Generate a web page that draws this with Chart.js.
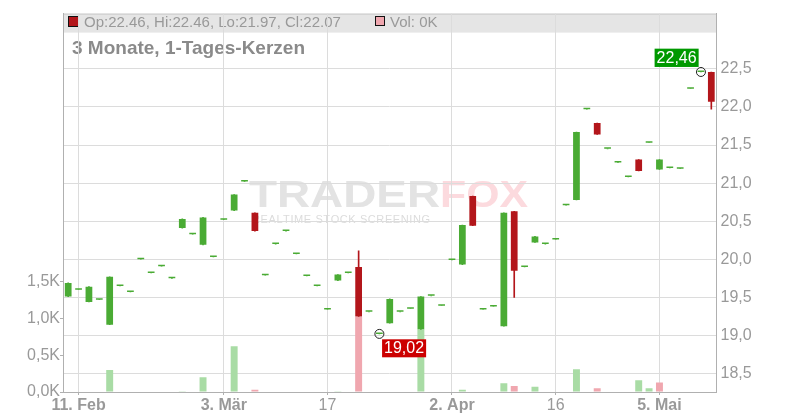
<!DOCTYPE html>
<html>
<head>
<meta charset="utf-8">
<script src="https://cdn.jsdelivr.net/npm/chart.js@4.4.1/dist/chart.umd.min.js"></script>
<style>
  html, body { margin: 0; padding: 0; background: #fff; }
  canvas { display: block; }
</style>
</head>
<body>
<canvas id="chart" width="800" height="420"></canvas>
<script>
// Trading days (dd.mm), 10 Feb - 12 May
const days = ['10.02','11.02','12.02','13.02','14.02','17.02','18.02','19.02','20.02','21.02',
  '24.02','25.02','26.02','27.02','28.02','03.03','04.03','05.03','06.03','07.03',
  '10.03','11.03','12.03','13.03','14.03','17.03','18.03','19.03','20.03','21.03',
  '24.03','25.03','26.03','27.03','28.03','31.03','01.04','02.04','03.04','04.04',
  '07.04','08.04','09.04','10.04','11.04','14.04','15.04','16.04','17.04','22.04',
  '23.04','24.04','25.04','28.04','29.04','30.04','02.05','05.05','06.05','07.05',
  '08.05','09.05','12.05'];

const open = [19.51,19.60,19.44,19.47,19.14,19.65,19.57,20.00,19.82,19.91,
  19.75,20.41,20.33,20.19,20.03,20.52,20.64,21.02,20.61,19.79,
  20.20,20.37,20.07,19.78,19.65,19.34,19.72,19.82,19.90,19.31,
  19.02,19.16,19.31,19.35,19.08,19.52,19.39,19.99,19.93,20.83,
  19.34,19.38,19.12,20.63,19.90,20.22,20.20,20.26,20.71,20.78,
  21.97,21.79,21.45,21.27,21.08,21.31,21.53,21.18,21.20,21.19,
  22.24,22.46,22.46];

const high = [19.69,19.60,19.64,19.47,19.77,19.65,19.57,20.00,19.82,19.91,
  19.75,20.53,20.33,20.55,20.03,20.52,20.85,21.02,20.61,19.79,
  20.20,20.37,20.07,19.78,19.65,19.34,19.80,19.82,20.11,19.31,
  19.02,19.48,19.31,19.35,19.51,19.52,19.39,19.99,20.45,20.83,
  19.34,19.38,20.61,20.63,19.90,20.30,20.20,20.26,20.71,21.67,
  21.97,21.79,21.45,21.27,21.08,21.31,21.53,21.31,21.20,21.19,
  22.24,22.46,22.46];

const low = [19.51,19.60,19.44,19.47,19.14,19.65,19.57,20.00,19.82,19.91,
  19.75,20.41,20.33,20.19,20.03,20.52,20.64,21.02,20.37,19.79,
  20.20,20.37,20.07,19.78,19.65,19.34,19.72,19.82,19.25,19.31,
  19.02,19.16,19.31,19.35,19.08,19.52,19.39,19.99,19.93,20.44,
  19.34,19.38,19.12,19.50,19.90,20.22,20.20,20.26,20.71,20.78,
  21.97,21.64,21.45,21.27,21.08,21.16,21.53,21.18,21.20,21.19,
  22.24,22.46,21.97];

const close = [19.69,19.60,19.64,19.47,19.77,19.65,19.57,20.00,19.82,19.91,
  19.75,20.53,20.33,20.55,20.03,20.52,20.85,21.02,20.37,19.79,
  20.20,20.37,20.07,19.78,19.65,19.34,19.80,19.82,19.25,19.31,
  19.02,19.48,19.31,19.35,19.51,19.52,19.39,19.99,20.45,20.44,
  19.34,19.38,20.61,19.85,19.90,20.30,20.20,20.26,20.71,21.67,
  21.97,21.64,21.45,21.27,21.08,21.16,21.53,21.31,21.20,21.19,
  22.24,22.46,22.07];

// volume in thousands
const volume = [0,0,0,0,0.30,0,0,0,0,0,
  0,0.01,0,0.20,0,0,0.62,0,0.03,0,
  0,0,0,0,0,0,0.01,0,1.02,0,
  0,0,0,0,0.85,0,0,0,0.03,0,
  0,0,0.12,0.08,0,0.07,0,0,0,0.31,
  0,0.05,0,0,0,0.16,0.05,0.13,0,0,
  0,0,0];

const xTickDays = ['11.02','03.03','17.03','02.04','16.04','05.05'];
const xTickText = ['11. Feb','3. Mär','17','2. Apr','16','5. Mai'];
const xTickBold = [true, true, false, true, false, true];
const priceTicks = [18.5, 19.0, 19.5, 20.0, 20.5, 21.0, 21.5, 22.0, 22.5];
const volTicks = [0, 0.5, 1.0, 1.5];
const markLow = 30;   // index of period low
const markHigh = 61;  // index of period high

const GREEN = '#4aab34';
const RED = '#b3161b';
const VOL_UP = '#a9dca5';
const VOL_DOWN = '#f0a7af';
const FONT = "'Liberation Sans', Arial, sans-serif";

Chart.defaults.font.family = FONT;

const candleColor = close.map((c, i) => c >= open[i] ? GREEN : RED);
const volColor = close.map((c, i) => (i === 0 || c >= close[i - 1]) ? VOL_UP : VOL_DOWN);
const last = close.length - 1;

const fmt = (v, d) => v.toFixed(d).replace('.', ',');

const decor = {
  id: 'decor',
  beforeDraw(chart) {
    const {ctx, chartArea: a} = chart;
    ctx.save();
    // header band
    ctx.fillStyle = '#e5e5e5';
    ctx.fillRect(a.left, a.top, a.right - a.left, 19);
    ctx.strokeStyle = '#c8c8c8';
    ctx.lineWidth = 1;
    ctx.beginPath();
    ctx.moveTo(a.left, a.top + 0.5);
    ctx.lineTo(a.right, a.top + 0.5);
    ctx.stroke();

    // legend squares + OHLC text
    ctx.fillStyle = candleColor[last];
    ctx.fillRect(68.5, 16.5, 10, 10);
    ctx.strokeStyle = '#111';
    ctx.strokeRect(68.5, 16.5, 10, 10);
    ctx.font = '15px ' + FONT;
    ctx.fillStyle = '#999';
    ctx.textBaseline = 'alphabetic';
    ctx.fillText('Op:' + open[last].toFixed(2) + ', Hi:' + high[last].toFixed(2) +
      ', Lo:' + low[last].toFixed(2) + ', Cl:' + close[last].toFixed(2), 84, 27);
    ctx.fillStyle = volColor[last];
    ctx.fillRect(375.5, 16.5, 9, 9);
    ctx.strokeRect(375.5, 16.5, 9, 9);
    ctx.fillStyle = '#999';
    ctx.fillText('Vol: ' + Math.round(volume[last]) + 'K', 390, 27);

    // title
    ctx.font = 'bold 19px ' + FONT;
    ctx.fillStyle = '#8a8a8a';
    ctx.fillText('3 Monate, 1-Tages-Kerzen', 72, 54);

    // watermark
    ctx.font = 'bold 37px ' + FONT;
    let w = ctx.measureText('TRADER').width;
    ctx.save();
    ctx.translate(249, 207);
    ctx.scale(191 / w, 1);
    ctx.fillStyle = '#e3e3e3';
    ctx.fillText('TRADER', 0, 0);
    ctx.restore();
    w = ctx.measureText('FOX').width;
    ctx.save();
    ctx.translate(440, 207);
    ctx.scale(88 / w, 1);
    ctx.fillStyle = '#fcdade';
    ctx.fillText('FOX', 0, 0);
    ctx.restore();
    ctx.font = '11px ' + FONT;
    ctx.fillStyle = '#dcdcdc';
    const sub = 'REALTIME STOCK SCREENING';
    const natural = ctx.measureText(sub).width;
    const gap = (177 - natural) / (sub.length - 1);
    let x = 252;
    for (const ch of sub) {
      ctx.fillText(ch, x, 223);
      x += ctx.measureText(ch).width + gap;
    }
    ctx.restore();
  },
  afterDatasetsDraw(chart) {
    const {ctx, scales} = chart;
    ctx.save();
    ctx.font = '16px ' + FONT;
    ctx.textAlign = 'center';
    ctx.textBaseline = 'middle';
    // low label
    let x = scales.x.getPixelForValue(markLow);
    let y = scales.y.getPixelForValue(low[markLow]);
    let txt = fmt(low[markLow], 2);
    let bw = ctx.measureText(txt).width + 4;
    ctx.fillStyle = '#cc0000';
    ctx.fillRect(x + 2.7, y + 5.4, bw, 18);
    ctx.fillStyle = '#fff';
    ctx.fillText(txt, x + 2.7 + bw / 2, y + 5.4 + 9.5);
    // high label
    x = scales.x.getPixelForValue(markHigh);
    y = scales.y.getPixelForValue(high[markHigh]);
    txt = fmt(high[markHigh], 2);
    bw = ctx.measureText(txt).width + 4;
    ctx.fillStyle = '#009900';
    ctx.fillRect(x - 2.3 - bw, y - 5 - 18.3, bw, 18.3);
    ctx.fillStyle = '#fff';
    ctx.fillText(txt, x - 2.3 - bw / 2, y - 5 - 18.3 + 9.6);
    ctx.restore();
  }
};

new Chart(document.getElementById('chart'), {
  type: 'bar',
  data: {
    labels: days,
    datasets: [
      {
        type: 'line',
        data: days.map((d, i) => i === markLow ? low[i] : (i === markHigh ? high[i] : null)),
        showLine: false,
        pointRadius: 4.5,
        pointBorderWidth: 1,
        pointBorderColor: '#222',
        pointBackgroundColor: 'rgba(0,0,0,0)',
        yAxisID: 'y',
        order: 0
      },
      {
        data: days.map((d, i) => [open[i], close[i]]),
        backgroundColor: candleColor,
        grouped: false,
        categoryPercentage: 1,
        barPercentage: 0.65,
        minBarLength: 1.5,
        yAxisID: 'y',
        order: 1
      },
      {
        data: days.map((d, i) => [low[i], high[i]]),
        backgroundColor: candleColor,
        grouped: false,
        barThickness: 1,
        yAxisID: 'y',
        order: 2
      },
      {
        data: volume,
        backgroundColor: volColor,
        grouped: false,
        categoryPercentage: 1,
        barPercentage: 0.67,
        yAxisID: 'yVol',
        order: 3
      }
    ]
  },
  options: {
    responsive: false,
    animation: false,
    events: [],
    layout: { padding: { top: 11, left: 0, right: 0, bottom: 0 } },
    plugins: { legend: { display: false }, tooltip: { enabled: false } },
    scales: {
      x: {
        type: 'category',
        offset: true,
        grid: { offset: false, color: '#dcdcdc', tickLength: 3, tickColor: '#b0b0b0' },
        border: { color: '#b0b0b0' },
        ticks: {
          autoSkip: false,
          maxRotation: 0,
          padding: 1,
          color: '#999',
          font: (c) => ({ size: 16, weight: xTickBold[c.index] ? 'bold' : 'normal' }),
          callback: (v) => xTickText[xTickDays.indexOf(days[v])]
        },
        afterBuildTicks: (s) => { s.ticks = xTickDays.map(d => ({ value: days.indexOf(d) })); },
        afterFit: (s) => { s.height = 28; }
      },
      yVol: {
        position: 'left',
        min: 0,
        max: 5.135,
        grid: { drawOnChartArea: false, tickLength: 3, color: '#b0b0b0' },
        border: { color: '#b0b0b0' },
        ticks: { padding: 0, color: '#999', font: { size: 16 }, callback: (v) => fmt(v, 1) + 'K' },
        afterBuildTicks: (s) => { s.ticks = volTicks.map(v => ({ value: v })); },
        afterFit: (s) => { s.width = 63; }
      },
      y: {
        position: 'right',
        min: 18.257,
        max: 23.2265,
        grid: { color: '#dcdcdc', drawTicks: false },
        border: { color: '#b0b0b0' },
        ticks: { padding: 4, color: '#999', font: { size: 16 }, callback: (v) => fmt(v, 1) },
        afterBuildTicks: (s) => { s.ticks = priceTicks.map(v => ({ value: v })); },
        afterFit: (s) => { s.width = 83.5; }
      }
    }
  },
  plugins: [decor]
});
</script>
</body>
</html>
